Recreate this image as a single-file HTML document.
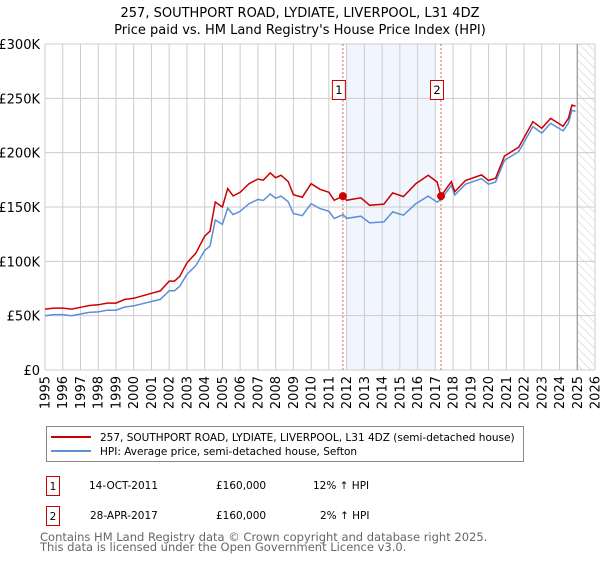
<!DOCTYPE html>
<html><head><meta charset="utf-8"><style>
body{margin:0;background:#fff;font-family:"DejaVu Sans","Liberation Sans",sans-serif;}
svg text{font-family:"DejaVu Sans","Liberation Sans",sans-serif;}
</style></head><body>
<svg id="chart" width="600" height="560" xmlns="http://www.w3.org/2000/svg">
<defs><pattern id="hatch" width="6" height="6" patternUnits="userSpaceOnUse" patternTransform="rotate(-45)"><line x1="0" y1="0" x2="0" y2="6" stroke="#ccc" stroke-width="1"/></pattern></defs>
<text x="300" y="17" text-anchor="middle" font-size="13">257, SOUTHPORT ROAD, LYDIATE, LIVERPOOL, L31 4DZ</text>
<text x="300" y="34" text-anchor="middle" font-size="13">Price paid vs. HM Land Registry's House Price Index (HPI)</text>
<g id="grid"></g><g id="marks"></g><g id="axes"></g>
<rect x="46.5" y="426.5" width="477" height="35" fill="#fff" stroke="#888"/>
<line x1="51" y1="437" x2="91" y2="437" stroke="#cc0000" stroke-width="2"/>
<text x="100" y="441" font-size="10.5">257, SOUTHPORT ROAD, LYDIATE, LIVERPOOL, L31 4DZ (semi-detached house)</text>
<line x1="51" y1="451" x2="91" y2="451" stroke="#5b8fd6" stroke-width="2"/>
<text x="100" y="455" font-size="10.5">HPI: Average price, semi-detached house, Sefton</text>
<g font-size="10.5">
<rect x="46.5" y="476.5" width="13" height="19" fill="#fff" stroke="#cc0000"/><text x="53" y="490" text-anchor="middle">1</text>
<text x="89" y="489">14-OCT-2011</text><text x="216" y="489">£160,000</text><text x="313" y="489">12% ↑ HPI</text></g>
<g font-size="10.5">
<rect x="46.5" y="506.5" width="13" height="19" fill="#fff" stroke="#cc0000"/><text x="53" y="520" text-anchor="middle">2</text>
<text x="90" y="519">28-APR-2017</text><text x="216" y="519">£160,000</text><text x="320" y="519">2% ↑ HPI</text></g>
<text x="40" y="541" font-size="11.5" fill="#666">Contains HM Land Registry data © Crown copyright and database right 2025.</text>
<text x="40" y="551" font-size="11.5" fill="#666">This data is licensed under the Open Government Licence v3.0.</text>
</svg>
<script>
const years=[1995,1995.5,1996,1996.5,1997,1997.5,1998,1998.5,1999,1999.5,2000,2000.5,2001,2001.5,2002,2002.3,2002.6,2003,2003.5,2004,2004.3,2004.6,2005,2005.3,2005.6,2006,2006.5,2007,2007.3,2007.7,2008,2008.3,2008.7,2009,2009.5,2010,2010.5,2011,2011.3,2011.8,2012,2012.8,2013.3,2014.1,2014.6,2015.2,2015.9,2016.6,2017.1,2017.32,2017.9,2018.1,2018.7,2019.6,2020,2020.4,2020.9,2021.7,2022.5,2023,2023.5,2024.2,2024.5,2024.7,2024.9];
const hpiValues=[50,51,51,50,51.5,53,53.5,55,55,58,59,61,63,65,73,73,77,88,96,110,114,138,134,149,143,146,153,157,156,162,158,160,155,144,142,153,148.5,146,139.5,143,139.5,141.5,135.4,136.3,145.5,142.5,153,160,154.5,157,170,161,171,176,171,173,193,201,224,218,227,220,227,239,238];
const propertyValues=[56,57,57,56,57.7,59.4,60,61.6,61.6,65,66,68.3,70.6,72.8,81.8,81.8,86.2,98.6,107.5,123.2,127.7,154.6,150,166.9,160.2,163.5,171.4,175.8,174.7,181.4,177,179.2,173.6,161.3,159,171.4,166.3,163.5,156.2,160,156.2,158.5,151.6,152.7,163,159.6,171.4,179.2,173,160,173.4,164.2,174.4,179.5,174.4,176.5,196.9,205,228.5,222.4,231.5,224.4,231.5,243.8,242.8];
const saleYears=[2011.79,2017.32];
const saleValues=[160,160];
const saleLabels=["1","2"];
const yTicks=[0,50,100,150,200,250,300];
const yTickLabels=["£0","£50K","£100K","£150K","£200K","£250K","£300K"];
const xTicks=[1995,1996,1997,1998,1999,2000,2001,2002,2003,2004,2005,2006,2007,2008,2009,2010,2011,2012,2013,2014,2015,2016,2017,2018,2019,2020,2021,2022,2023,2024,2025,2026];
const shadeRange=[2012.0,2017.0];
const forecastStart=2025.0;

const L=45,R=595,T=44,B=370;
const xs=y=>L+(y-1995)/(2026-1995)*(R-L);
const ys=v=>B-v/300*(B-T);
const NS="http://www.w3.org/2000/svg";
function mk(parent,tag,attrs){const e=document.createElementNS(NS,tag);for(const k in attrs)e.setAttribute(k,attrs[k]);parent.appendChild(e);return e;}
const grid=document.getElementById('grid'),marks=document.getElementById('marks'),axes=document.getElementById('axes');

const sh=mk(grid,'rect',{x:xs(shadeRange[0]),y:T,width:xs(shadeRange[1])-xs(shadeRange[0]),height:B-T,fill:'#eef3fc',opacity:0.8});


const ht=mk(grid,'rect',{x:xs(forecastStart),y:T,width:R-xs(forecastStart),height:B-T,fill:'url(#hatch)'});


xTicks.forEach(t=>{
  const l=mk(grid,'line',{x1:xs(t),x2:xs(t),y1:T,y2:B,stroke:'#ccc','stroke-width':1});
  
  
  const tx=mk(axes,'text',{x:0,y:0,'font-size':13,'text-anchor':'end',transform:`translate(${xs(t)+4.5},376) rotate(-90)`});
  tx.textContent=t;
  
  
});
yTicks.forEach((v,i)=>{
  const l=mk(grid,'line',{x1:L,x2:R,y1:ys(v),y2:ys(v),stroke:'#ccc','stroke-width':1});
  
  
  const tx=mk(axes,'text',{x:40,y:ys(v)+5,'font-size':13,'text-anchor':'end'});
  tx.textContent=yTickLabels[i];
  
  
});
const fl=mk(grid,'line',{x1:xs(forecastStart),x2:xs(forecastStart),y1:T,y2:B,stroke:'#999','stroke-width':1.2});



saleYears.forEach((y,i)=>{
  const l=mk(marks,'line',{x1:xs(y),x2:xs(y),y1:T,y2:B,stroke:'#e06060','stroke-width':1,'stroke-dasharray':'2,2'});
  
  
});
const pts=a=>a.map((v,i)=>xs(years[i]).toFixed(1)+','+ys(v).toFixed(1)).join(' ');
const hp=mk(marks,'polyline',{points:pts(hpiValues),fill:'none',stroke:'#5b8fd6','stroke-width':1.5});


const pp=mk(marks,'polyline',{points:pts(propertyValues),fill:'none',stroke:'#cc0000','stroke-width':1.5});


saleYears.forEach((y,i)=>{
  const c=mk(marks,'circle',{cx:xs(y),cy:ys(saleValues[i]),r:4,fill:'#cc0000'});
  
  
  const g=mk(marks,'g',{});
  
  
  mk(g,'rect',{x:xs(y)-10.5,y:80.5,width:13,height:19,fill:'#fff',stroke:'#cc0000'});
  const t=mk(g,'text',{x:xs(y)-4,y:94,'font-size':11.5,'text-anchor':'middle'});
  t.textContent=saleLabels[i];
});
</script>
</body></html>
